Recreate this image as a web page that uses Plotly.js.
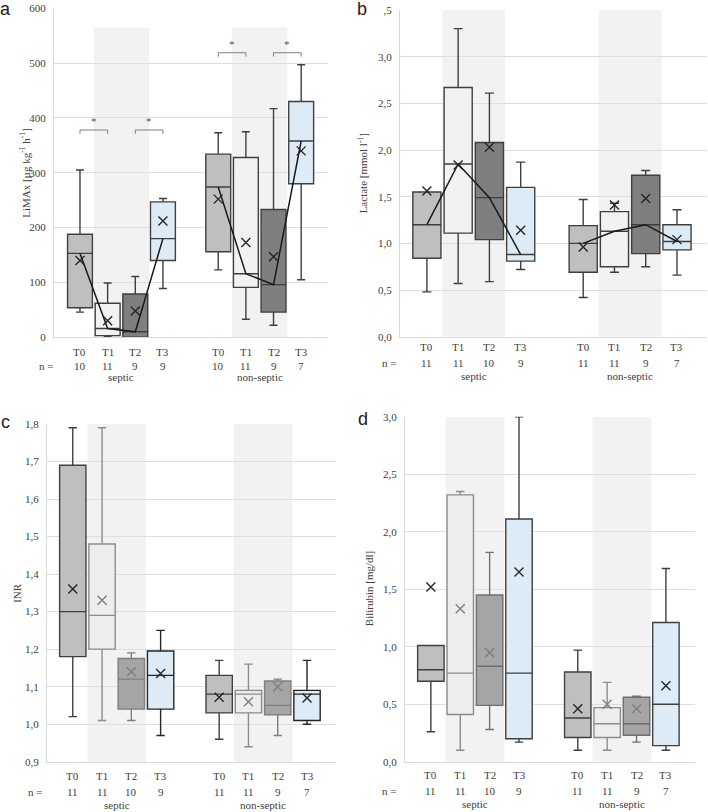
<!DOCTYPE html>
<html>
<head>
<meta charset="utf-8">
<script src="https://cdn.plot.ly/plotly-3.0.1.min.js"></script>
<style>body{margin:0;background:#fff}#chart{width:708px;height:812px}</style>
</head>
<body>
<div id="chart"></div>
<script>
// time points and patient groups
var timepoints = ['T0', 'T1', 'T2', 'T3'];
var groups = ['septic', 'non-septic'];

// all value arrays are ordered septic T0..T3, then non-septic T0..T3
var nLimax = [10, 11, 9, 9, 10, 11, 9, 7];
var nOther = [11, 11, 10, 9, 11, 11, 9, 7];

// a: LiMAx
var limaxLower  = [46, 1, 0, 89, 123, 33, 22, 105];
var limaxQ1     = [54, 3, 0, 140, 156, 91, 46, 280];
var limaxMedian = [153, 16, 10, 180, 274, 116, 96, 358];
var limaxQ3     = [188, 62, 79, 247, 334, 328, 233, 430];
var limaxUpper  = [305, 99, 111, 253, 373, 375, 417, 497];
var limaxMean   = [140, 30, 48, 212, 252, 173, 147, 340];

// b: lactate
var lactLower  = [0.48, 0.57, 0.59, 0.72, 0.42, 0.69, 0.75, 0.66];
var lactQ1     = [0.84, 1.11, 1.04, 0.81, 0.69, 0.75, 0.89, 0.93];
var lactMedian = [1.20, 1.85, 1.49, 0.88, 1.00, 1.13, 1.20, 1.02];
var lactQ3     = [1.55, 2.67, 2.08, 1.60, 1.19, 1.34, 1.73, 1.20];
var lactUpper  = [1.55, 3.30, 2.61, 1.87, 1.47, 1.43, 1.78, 1.36];
var lactMean   = [1.56, 1.84, 2.03, 1.14, 0.96, 1.41, 1.48, 1.04];

// c: INR
var inrLower  = [1.02, 1.01, 1.01, 0.97, 0.96, 0.94, 0.97, 1.00];
var inrQ1     = [1.18, 1.20, 1.04, 1.04, 1.03, 1.03, 1.025, 1.01];
var inrMedian = [1.30, 1.29, 1.12, 1.13, 1.08, 1.08, 1.05, 1.08];
var inrQ3     = [1.69, 1.48, 1.175, 1.195, 1.13, 1.09, 1.115, 1.09];
var inrUpper  = [1.79, 1.79, 1.19, 1.25, 1.17, 1.16, 1.12, 1.17];
var inrMean   = [1.36, 1.33, 1.14, 1.135, 1.072, 1.06, 1.10, 1.07];

// d: bilirubin
var biliLower  = [0.26, 0.10, 0.28, 0.17, 0.10, 0.10, 0.17, 0.10];
var biliQ1     = [0.70, 0.41, 0.49, 0.20, 0.21, 0.21, 0.23, 0.14];
var biliMedian = [0.80, 0.77, 0.83, 0.77, 0.38, 0.33, 0.33, 0.50];
var biliQ3     = [1.01, 2.32, 1.45, 2.11, 0.78, 0.47, 0.56, 1.21];
var biliUpper  = [1.01, 2.35, 1.82, 3.00, 0.97, 0.69, 0.57, 1.68];
var biliMean   = [1.52, 1.33, 0.95, 1.65, 0.46, 0.50, 0.46, 0.66];

// significant pairs in panel a (indices into the arrays above) and bracket heights
var sigPairs = [[0, 1], [2, 3], [4, 5], [6, 7]];
var sigHeights = [378, 378, 519, 519];

var W = 708, H = 812;
var serif = 'Liberation Serif';
var textColor = '#404040';
var fs = 11;

// x position of each box: one empty slot between the groups
var positions = [];
groups.forEach(function (g, gi) {
  timepoints.forEach(function (t, ti) { positions.push(gi * 5 + ti); });
});

var panels = [
  {
    letter: 'a', title: 'LiMAx [µg kg<sup>-1</sup> h<sup>-1</sup>]', n: nLimax,
    stats: [limaxLower, limaxQ1, limaxMedian, limaxQ3, limaxUpper, limaxMean],
    fills: ['#bfbfbf', '#f2f2f2', '#7f7f7f', '#ddebf7'],
    lines: ['#3f3f3f', '#3f3f3f', '#3f3f3f', '#3f3f3f'],
    meanColors: ['#262626', '#262626', '#262626', '#262626'],
    medianLine: true, bandTop: 565,
    px: [54, 328], py: [8.3, 337.3], yRange: [0, 600], xRange: [-0.94, 8.97],
    ticks: [0, 100, 200, 300, 400, 500, 600], tickFmt: function (v) { return String(v); },
    letterPos: [5, 9], titleX: 25, tRow: 351.7, nRow: 365.7, nX: 46, groupY: 377.5
  },
  {
    letter: 'b', title: 'Lactate [mmol l<sup>-1</sup>]', n: nOther,
    stats: [lactLower, lactQ1, lactMedian, lactQ3, lactUpper, lactMean],
    fills: ['#bfbfbf', '#f2f2f2', '#7f7f7f', '#ddebf7'],
    lines: ['#3f3f3f', '#3f3f3f', '#3f3f3f', '#3f3f3f'],
    meanColors: ['#262626', '#262626', '#262626', '#262626'],
    medianLine: true, bandTop: 3.5,
    px: [400, 707], py: [10, 336.7], yRange: [0, 3.5], xRange: [-0.86, 8.96],
    ticks: [0, 0.5, 1, 1.5, 2, 2.5, 3, 3.5],
    tickFmt: function (v) { return v === 3.5 ? ',5' : v.toFixed(1).replace('.', ','); },
    letterPos: [362, 9], titleX: 363, tRow: 347, nRow: 363, nX: 389, groupY: 376
  },
  {
    letter: 'c', title: 'INR', n: nOther,
    stats: [inrLower, inrQ1, inrMedian, inrQ3, inrUpper, inrMean],
    fills: ['#bfbfbf', '#ededed', '#a5a5a5', '#ddebf7'],
    lines: ['#3f3f3f', '#8c8c8c', '#7f7f7f', '#262626'],
    meanColors: ['#262626', '#7f7f7f', '#7f7f7f', '#262626'],
    medianLine: false, bandTop: 1.8,
    px: [47, 336], py: [424, 761.7], yRange: [0.9, 1.8], xRange: [-0.88, 8.99],
    ticks: [0.9, 1.0, 1.1, 1.2, 1.3, 1.4, 1.5, 1.6, 1.7, 1.8],
    tickFmt: function (v) { return v.toFixed(1).replace('.', ','); },
    letterPos: [5, 422], titleX: 17, tRow: 775.7, nRow: 791.7, nX: 35, groupY: 804.5
  },
  {
    letter: 'd', title: 'Bilirubin [mg/dl]', n: nOther,
    stats: [biliLower, biliQ1, biliMedian, biliQ3, biliUpper, biliMean],
    fills: ['#bfbfbf', '#ededed', '#a5a5a5', '#ddebf7'],
    lines: ['#3f3f3f', '#8c8c8c', '#6f6f6f', '#3f3f3f'],
    meanColors: ['#262626', '#7f7f7f', '#7f7f7f', '#262626'],
    medianLine: false, bandTop: 3.0,
    px: [405, 695], py: [416.7, 761.7], yRange: [0, 3.0], xRange: [-0.88, 8.99],
    ticks: [0, 0.5, 1, 1.5, 2, 2.5, 3],
    tickFmt: function (v) { return v.toFixed(1).replace('.', ','); },
    letterPos: [363, 419], titleX: 369, tRow: 774.5, nRow: 791, nX: 389, groupY: 804
  }
];

var traces = [];
var shapes = [];
var annotations = [];
var layout = {
  width: W, height: H,
  margin: {l: 0, r: 0, t: 0, b: 0},
  paper_bgcolor: '#ffffff', plot_bgcolor: 'rgba(0,0,0,0)',
  showlegend: false, hovermode: false,
  font: {family: serif, size: fs, color: textColor}
};

function pick(arr, j) { return [arr[j], arr[j + 4]]; }

function label(xref, x, ypx, text) {
  return {
    xref: xref, yref: 'paper', x: x, y: 1 - ypx / H,
    xanchor: 'center', yanchor: 'middle', showarrow: false,
    text: text, font: {family: serif, size: fs, color: textColor}
  };
}

panels.forEach(function (p, pi) {
  var suf = pi === 0 ? '' : String(pi + 1);
  var xa = 'x' + suf, ya = 'y' + suf;
  var s = p.stats;

  // boxes, one trace per time point
  timepoints.forEach(function (t, j) {
    traces.push({
      type: 'box', xaxis: xa, yaxis: ya,
      x: pick(positions, j),
      lowerfence: pick(s[0], j), q1: pick(s[1], j), median: pick(s[2], j),
      q3: pick(s[3], j), upperfence: pick(s[4], j),
      boxpoints: false, width: 0.9, whiskerwidth: 0.32,
      fillcolor: p.fills[j], line: {color: p.lines[j], width: 1.4}
    });
  });

  // lines through the medians
  if (p.medianLine) {
    groups.forEach(function (g, gi) {
      traces.push({
        type: 'scatter', mode: 'lines', xaxis: xa, yaxis: ya,
        x: positions.slice(gi * 4, gi * 4 + 4), y: s[2].slice(gi * 4, gi * 4 + 4),
        line: {color: '#1a1a1a', width: 1.5}
      });
    });
  }

  // means as crosses
  var mc = p.meanColors.concat(p.meanColors);
  traces.push({
    type: 'scatter', mode: 'markers', xaxis: xa, yaxis: ya,
    x: positions, y: s[5],
    marker: {symbol: 'x-thin-open', size: 9, color: mc, line: {width: 1.4, color: mc}}
  });

  layout['xaxis' + suf] = {
    domain: [p.px[0] / W, p.px[1] / W], range: p.xRange, anchor: ya,
    showticklabels: false,
    showgrid: false, zeroline: false, showline: true, linecolor: '#d9d9d9', ticks: ''
  };
  layout['yaxis' + suf] = {
    domain: [1 - p.py[1] / H, 1 - p.py[0] / H], range: p.yRange, anchor: xa,
    tickmode: 'array', tickvals: p.ticks, ticktext: p.ticks.map(p.tickFmt),
    showgrid: true, gridcolor: '#dedede', gridwidth: 1, zeroline: false,
    showline: true, linecolor: '#d9d9d9', ticks: '', ticklabelstandoff: 5,
    tickfont: {family: serif, size: fs, color: textColor}
  };

  // y axis title
  annotations.push({
    xref: 'paper', yref: 'paper', x: p.titleX / W, y: 1 - (p.py[0] + p.py[1]) / 2 / H,
    xanchor: 'center', yanchor: 'middle', textangle: -90, showarrow: false,
    text: p.title, font: {family: serif, size: fs, color: textColor}
  });

  // time point and sample size rows under each box
  positions.forEach(function (x, i) {
    annotations.push(label(xa, x, p.tRow, timepoints[i % 4]));
    annotations.push(label(xa, x, p.nRow, String(p.n[i])));
  });
  annotations.push(label('paper', p.nX / W, p.nRow, 'n ='));

  // grey background bands behind T1 and T2, group names
  groups.forEach(function (g, gi) {
    shapes.push({
      type: 'rect', xref: xa, yref: ya, layer: 'below',
      x0: positions[gi * 4 + 1] - 0.5, x1: positions[gi * 4 + 2] + 0.5,
      y0: p.yRange[0], y1: p.bandTop,
      fillcolor: '#f2f2f2', line: {width: 0}
    });
    annotations.push(label(xa, (positions[gi * 4] + positions[gi * 4 + 3]) / 2, p.groupY, g));
  });

  annotations.push({
    xref: 'paper', yref: 'paper', x: p.letterPos[0] / W, y: 1 - p.letterPos[1] / H,
    xanchor: 'center', yanchor: 'middle', showarrow: false,
    text: p.letter, font: {family: 'Liberation Sans', size: 18, color: '#222222'}
  });
});

// significance brackets in panel a
sigPairs.forEach(function (pair, k) {
  var x0 = positions[pair[0]], x1 = positions[pair[1]], y = sigHeights[k];
  shapes.push({
    type: 'path', xref: 'x', yref: 'y',
    path: 'M' + x0 + ',' + (y - 7) + ' L' + x0 + ',' + y + ' L' + x1 + ',' + y + ' L' + x1 + ',' + (y - 7),
    line: {color: '#7f7f7f', width: 1}
  });
  annotations.push({
    xref: 'x', yref: 'y', x: (x0 + x1) / 2, y: y + 2, yanchor: 'bottom',
    showarrow: false, text: '*', font: {family: serif, size: 11, color: '#555555'}
  });
});

layout.shapes = shapes;
layout.annotations = annotations;

Plotly.newPlot('chart', traces, layout, {staticPlot: true});
</script>
</body>
</html>
